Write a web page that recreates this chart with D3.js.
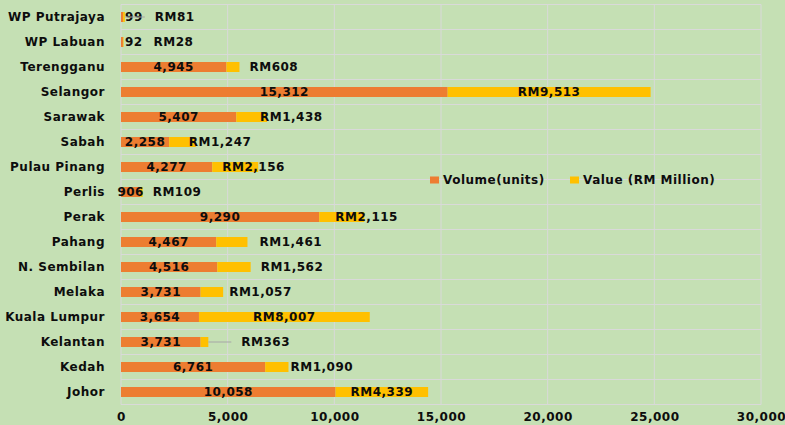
<!DOCTYPE html>
<html lang="en">
<head>
  <meta charset="UTF-8">
  <title>Volume and Value by State</title>
  <script src="https://d3js.org/d3.v7.min.js"></script>
  <style>
    body { margin: 0; }
    svg text {
      font-family: "DejaVu Sans", Verdana, sans-serif;
      font-weight: bold;
      font-size: 12px;
      letter-spacing: 0.5px;
      fill: #0d0d0d;
    }
  </style>
</head>
<body>
<svg width="785" height="425"></svg>
<script>
  // Data (top to bottom)
  const states = ["WP Putrajaya", "WP Labuan", "Terengganu", "Selangor", "Sarawak", "Sabah",
    "Pulau Pinang", "Perlis", "Perak", "Pahang", "N. Sembilan", "Melaka",
    "Kuala Lumpur", "Kelantan", "Kedah", "Johor"];
  const volume = [99, 92, 4945, 15312, 5407, 2258, 4277, 906, 9290, 4467, 4516, 3731, 3654, 3731, 6761, 10058];
  const value = [81, 28, 608, 9513, 1438, 1247, 2156, 109, 2115, 1461, 1562, 1057, 8007, 363, 1090, 4339];
  const xTicks = [0, 5000, 10000, 15000, 20000, 25000, 30000];
  const seriesNames = ["Volume(units)", "Value (RM Million)"];

  // label nudges (px) for the value labels that sit outside the bar
  const valueLabelNudge = [20, 20, 0, 0, -17, -17, -46, 0, -39, 2, 0, -4, 0, 23, -8, 0];
  const leaderLines = ["WP Putrajaya", "Kelantan"];

  const colors = ["#ED7D31", "#FFC000"];
  const margin = {top: 4.5, right: 24, bottom: 20.5, left: 121},
        width = 785 - margin.left - margin.right,
        height = 425 - margin.top - margin.bottom;

  const root = d3.select("svg");
  root.append("rect").attr("width", 785).attr("height", 425).attr("fill", "#C5E0B4");

  const svg = root.append("g")
    .attr("transform", "translate(" + margin.left + "," + margin.top + ")");

  const rows = states.map((s, i) => ({state: s, volume: volume[i], value: value[i], i: i}));

  const x = d3.scaleLinear().domain([0, 30000]).range([0, width]);
  const y = d3.scaleBand().domain(states).range([0, height]).paddingInner(0).paddingOuter(0);
  const barH = 10;

  // gridlines
  svg.append("g").selectAll("line.v")
    .data(xTicks).enter().append("line")
    .attr("x1", d => x(d)).attr("x2", d => x(d))
    .attr("y1", 0).attr("y2", height)
    .attr("stroke", "#D9D9D9").attr("stroke-width", 1);
  svg.append("g").selectAll("line.h")
    .data(d3.range(states.length + 1)).enter().append("line")
    .attr("x1", 0).attr("x2", width)
    .attr("y1", d => d * y.bandwidth()).attr("y2", d => d * y.bandwidth())
    .attr("stroke", "#D9D9D9").attr("stroke-width", 1);

  // x axis labels
  const xAxis = svg.append("g")
    .attr("transform", "translate(0," + height + ")")
    .call(d3.axisBottom(x).tickValues(xTicks).tickFormat(d3.format(",")).tickSize(0).tickPadding(8));
  xAxis.select(".domain").remove();
  xAxis.selectAll("text").attr("font-size", null).attr("font-family", null).attr("fill", null);

  // category labels
  const yAxis = svg.append("g")
    .call(d3.axisLeft(y).tickSize(0).tickPadding(16));
  yAxis.select(".domain").remove();
  yAxis.selectAll("text").attr("font-size", null).attr("font-family", null).attr("fill", null);

  // bars
  const bar = svg.append("g").selectAll("g")
    .data(rows).enter().append("g")
    .attr("transform", d => "translate(0," + (y(d.state) + y.bandwidth() / 2) + ")");

  bar.append("rect")
    .attr("x", 0)
    .attr("y", -barH / 2)
    .attr("width", d => x(d.volume))
    .attr("height", barH)
    .attr("fill", colors[0]);

  bar.append("rect")
    .attr("x", d => x(d.volume))
    .attr("y", -barH / 2)
    .attr("width", d => x(d.value))
    .attr("height", barH)
    .attr("fill", colors[1]);

  // volume labels
  bar.append("text")
    .attr("dy", "0.36em")
    .text(d => d3.format(",")(d.volume))
    .each(function(d) {
      const w = x(d.volume);
      if (w < 10) {
        d3.select(this).attr("x", w + 2).attr("text-anchor", "start");
      } else {
        d3.select(this).attr("x", w / 2).attr("text-anchor", "middle");
      }
    });

  // value labels
  bar.append("text")
    .attr("dy", "0.36em")
    .text(d => "RM" + d3.format(",")(d.value))
    .each(function(d) {
      const tw = this.getComputedTextLength();
      const segW = x(d.value);
      const end = x(d.volume + d.value);
      const sel = d3.select(this);
      if (tw + 4 <= segW) {
        sel.attr("x", x(d.volume) + segW / 2).attr("text-anchor", "middle");
      } else {
        const start = end + 10 + valueLabelNudge[d.i];
        sel.attr("x", start).attr("text-anchor", "start");
        if (leaderLines.includes(d.state)) {
          d3.select(this.parentNode).append("line")
            .attr("x1", end).attr("x2", start - 10)
            .attr("y1", 0).attr("y2", 0)
            .attr("stroke", "#A6A6A6").attr("stroke-width", 1);
        }
      }
    });

  // legend
  const legend = root.append("g").attr("transform", "translate(430,184)");
  const legendX = [0, 140];
  seriesNames.forEach((name, i) => {
    legend.append("rect")
      .attr("x", legendX[i]).attr("y", -7.5)
      .attr("width", 9).attr("height", 7)
      .attr("fill", colors[i]);
    legend.append("text")
      .attr("x", legendX[i] + 13).attr("y", 0)
      .text(name);
  });
</script>
</body>
</html>
